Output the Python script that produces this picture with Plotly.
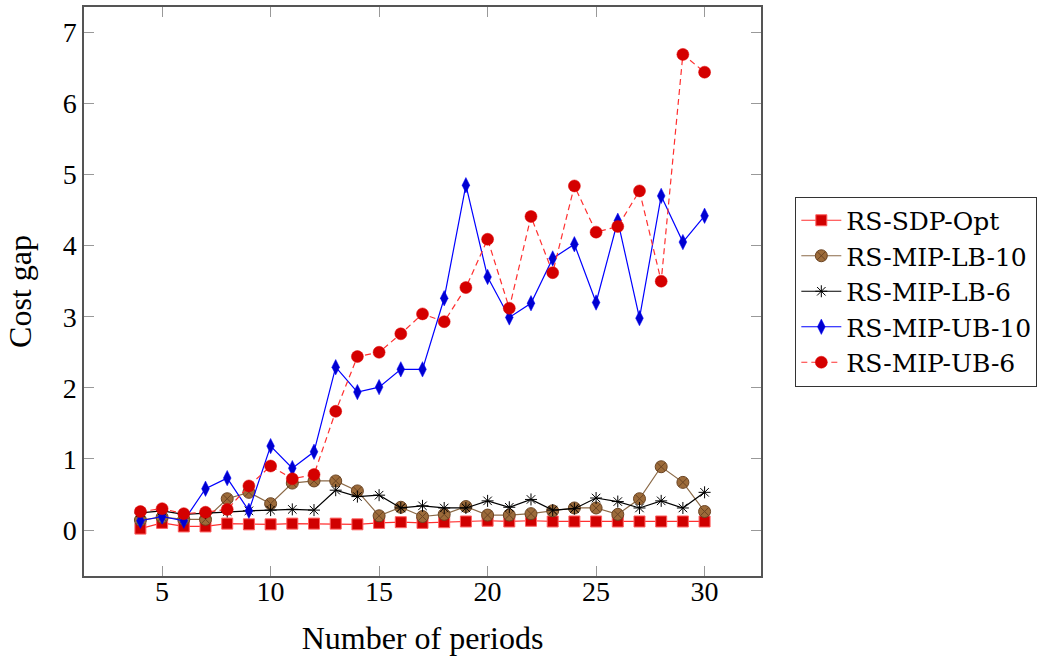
import plotly.graph_objects as go

periods = list(range(4, 31))

rs_sdp_opt = [0.02, 0.10, 0.05, 0.05, 0.09, 0.08, 0.08, 0.09, 0.09, 0.09, 0.08, 0.10, 0.11,
              0.10, 0.11, 0.12, 0.13, 0.12, 0.13, 0.12, 0.12, 0.12, 0.12, 0.12, 0.12, 0.12, 0.12]
rs_mip_lb_10 = [0.14, 0.18, 0.15, 0.15, 0.44, 0.53, 0.37, 0.66, 0.69, 0.69, 0.55, 0.20, 0.32,
                0.19, 0.22, 0.33, 0.21, 0.21, 0.23, 0.27, 0.31, 0.31, 0.22, 0.44, 0.89, 0.67, 0.26]
rs_mip_lb_6 = [0.24, 0.27, 0.22, 0.24, 0.26, 0.27, 0.28, 0.29, 0.28, 0.56, 0.47, 0.49, 0.31,
               0.34, 0.31, 0.31, 0.41, 0.32, 0.43, 0.28, 0.30, 0.45, 0.40, 0.31, 0.41, 0.31, 0.53]
rs_mip_ub_10 = [0.13, 0.19, 0.13, 0.58, 0.73, 0.27, 1.18, 0.87, 1.10, 2.29, 1.94, 2.01, 2.26,
                2.26, 3.26, 4.85, 3.56, 2.99, 3.19, 3.82, 4.02, 3.20, 4.35, 2.98, 4.70, 4.05, 4.42]
rs_mip_ub_6 = [0.26, 0.30, 0.23, 0.25, 0.29, 0.62, 0.90, 0.72, 0.78, 1.67, 2.44, 2.50, 2.76,
               3.04, 2.93, 3.41, 4.09, 3.12, 4.41, 3.62, 4.84, 4.19, 4.27, 4.77, 3.50, 6.69, 6.44]

x_ticks = [5, 10, 15, 20, 25, 30]
y_ticks = [0, 1, 2, 3, 4, 5, 6, 7]

FONT = "Liberation Serif"
LEGEND_FONT = "DejaVu Serif"

fig = go.Figure()
fig.add_trace(go.Scatter(
    x=periods, y=rs_sdp_opt, name="RS-SDP-Opt", mode="lines+markers",
    line=dict(color="#ff3030", width=1.2),
    marker=dict(symbol="square", size=11, color="#d00000", line=dict(color="#ff6060", width=1)),
))
fig.add_trace(go.Scatter(
    x=periods, y=rs_mip_lb_10, name="RS-MIP-LB-10", mode="lines+markers",
    line=dict(color="#8b6a48", width=1.2),
    marker=dict(symbol="circle-x", size=12, color="#9c6b3a", line=dict(color="#6b4423", width=1)),
))
fig.add_trace(go.Scatter(
    x=periods, y=rs_mip_lb_6, name="RS-MIP-LB-6", mode="lines+markers",
    line=dict(color="black", width=1.2),
    marker=dict(symbol="asterisk-open", size=10, color="black", line=dict(color="black", width=1)),
))
fig.add_trace(go.Scatter(
    x=periods, y=rs_mip_ub_10, name="RS-MIP-UB-10", mode="lines+markers",
    line=dict(color="#0000ff", width=1.2),
    marker=dict(symbol="diamond-tall", size=11, color="#0000d0", line=dict(color="#0000ff", width=0.5)),
))
fig.add_trace(go.Scatter(
    x=periods, y=rs_mip_ub_6, name="RS-MIP-UB-6", mode="lines+markers",
    line=dict(color="#ff3030", width=1.2, dash="6px,4px"),
    marker=dict(symbol="circle", size=12, color="#d40000", line=dict(color="#e00000", width=0.5)),
))

axis_common = dict(
    showline=True, linecolor="#555555", linewidth=1.5, mirror="allticks",
    ticks="inside", ticklen=10, tickcolor="#999999", tickwidth=1,
    showgrid=False, zeroline=False,
    tickfont=dict(family=FONT, size=28, color="black"),
)

fig.update_xaxes(range=[1.4, 32.6], tickvals=x_ticks, ticklabelstandoff=-10,
                 title=dict(text="Number of periods", font=dict(family=FONT, size=32, color="black"), standoff=20),
                 **axis_common)
fig.update_yaxes(range=[-0.647, 7.357], tickvals=y_ticks,
                 title=dict(text="Cost gap", font=dict(family=FONT, size=32, color="black"), standoff=21),
                 **axis_common)

fig.update_layout(
    width=1050, height=657,
    margin=dict(l=84, r=289, t=7, b=81, autoexpand=False),
    paper_bgcolor="white", plot_bgcolor="white",
    legend=dict(x=1.0507, y=0.5, xanchor="left", yanchor="middle",
                bordercolor="#333333", borderwidth=1, bgcolor="white",
                font=dict(family=LEGEND_FONT, size=25, color="black"),
                tracegroupgap=0, itemwidth=40),
    showlegend=True,
)

fig.write_html("out.html")
